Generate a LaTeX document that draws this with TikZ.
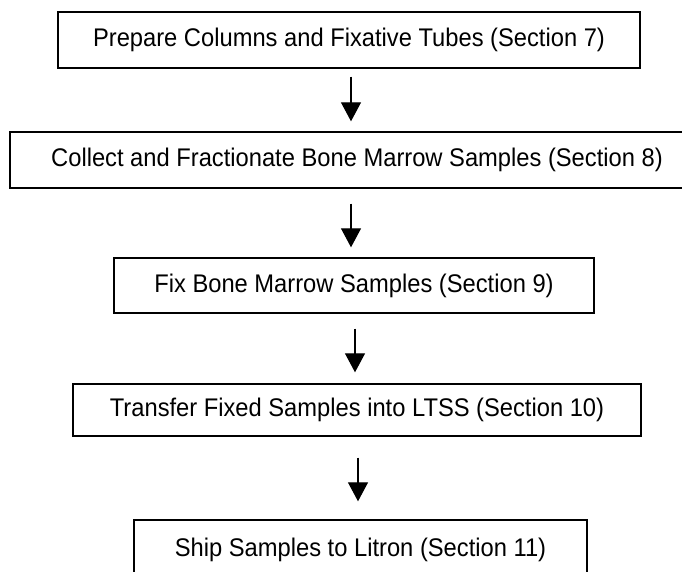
\documentclass[tikz,border=0pt]{standalone}
\usepackage{fontspec}
\usepackage{graphicx}
\setmainfont{Liberation Sans}
\usetikzlibrary{arrows.meta}
\newcommand{\steptext}[1]{\scalebox{0.93}[1]{#1}}
\begin{document}
\begin{tikzpicture}[x=1pt,y=-1pt,
  stepbox/.style={draw,line width=1.4pt,inner sep=0pt,font=\fontsize{25.5}{30}\selectfont},
  arr/.style={line width=1.2pt,-{Triangle[width=20pt,length=19pt]}}]
\useasboundingbox (0,0) rectangle (682,571);
\node[stepbox,minimum width=582pt,minimum height=56pt] (b1) at (349,40) {\steptext{Prepare Columns and Fixative Tubes (Section 7)}};
\node[stepbox,minimum width=694pt,minimum height=56pt] (b2) at (357,160) {\steptext{Collect and Fractionate Bone Marrow Samples (Section 8)}};
\node[stepbox,minimum width=480pt,minimum height=55pt] (b3) at (354,285.5) {\steptext{Fix Bone Marrow Samples (Section 9)}};
\node[stepbox,minimum width=568pt,minimum height=52pt] (b4) at (357,410) {\steptext{Transfer Fixed Samples into LTSS (Section 10)}};
\node[stepbox,minimum width=453pt,minimum height=60pt] (b5) at (360.5,550) {\steptext{Ship Samples to Litron (Section 11)}};
\coordinate (x1) at (351,0);
\coordinate (x2) at (351,0);
\coordinate (x3) at (355,0);
\coordinate (x4) at (358,0);
\draw[arr,shorten <=8pt,shorten >=10pt] (b1.south -| x1) -- (b2.north -| x1);
\draw[arr,shorten <=15pt,shorten >=10pt] (b2.south -| x2) -- (b3.north -| x2);
\draw[arr,shorten <=15pt,shorten >=11pt] (b3.south -| x3) -- (b4.north -| x3);
\draw[arr,shorten <=21pt,shorten >=18pt] (b4.south -| x4) -- (b5.north -| x4);
\end{tikzpicture}
\end{document}
